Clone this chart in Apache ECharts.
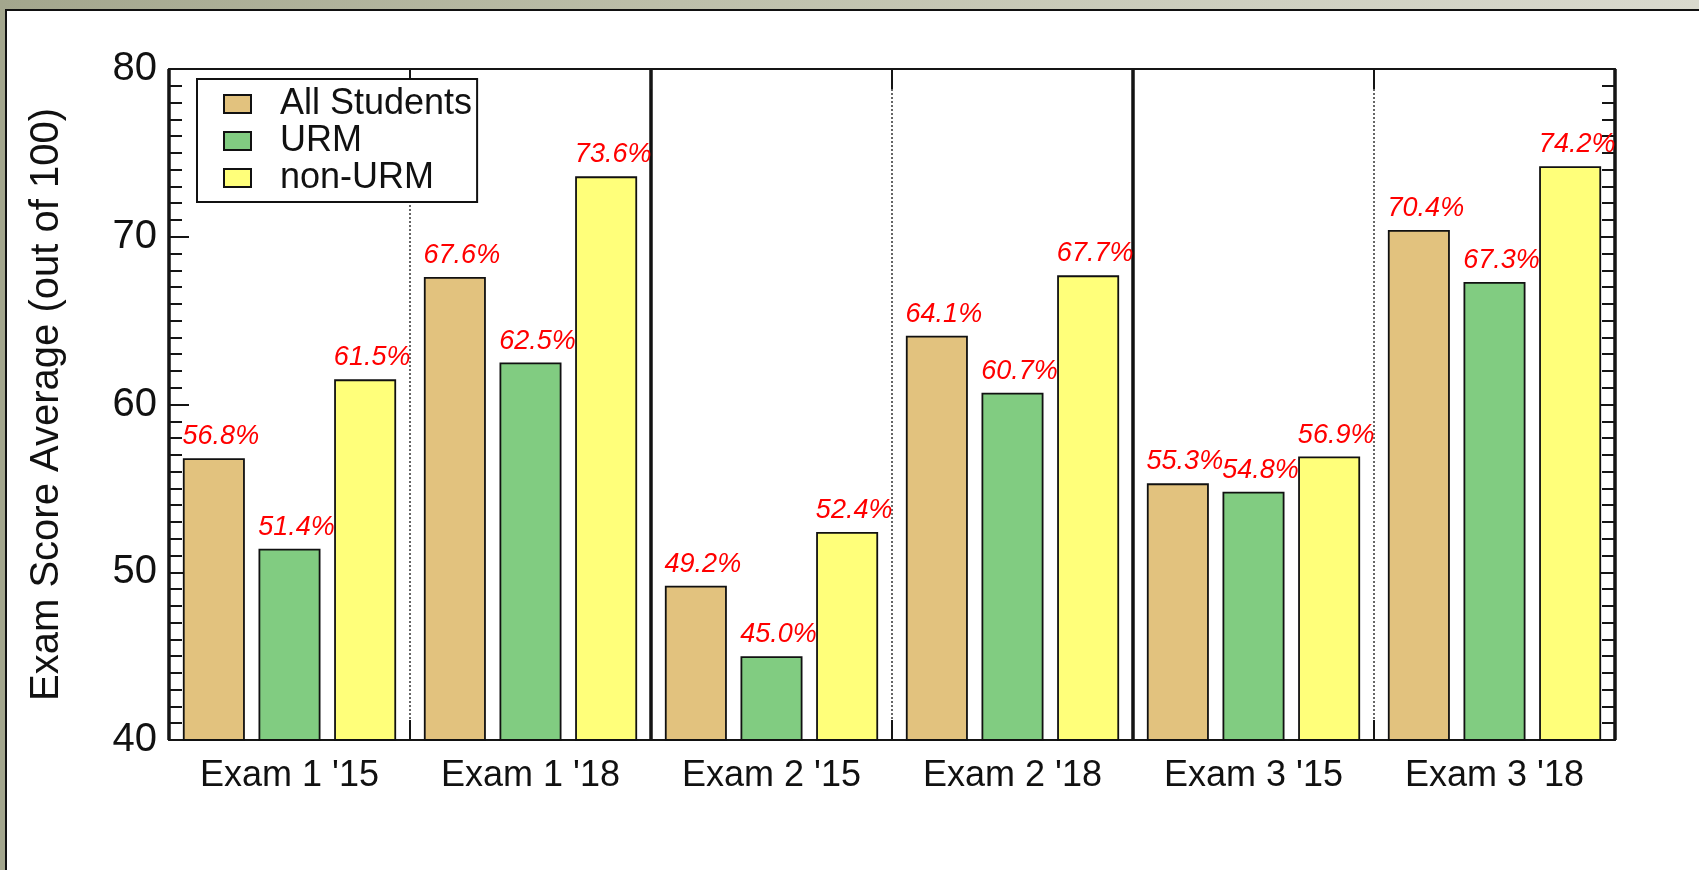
<!DOCTYPE html>
<html>
<head>
<meta charset="utf-8">
<script src="https://cdn.jsdelivr.net/npm/echarts@6/dist/echarts.min.js"></script>
<style>
  html, body { margin: 0; padding: 0; width: 1699px; height: 870px; overflow: hidden; }
  body { background: linear-gradient(to right, #a3a68d 0%, #bdbfaa 40%, #cfd0c1 75%, #d9d9ce 100%); position: relative; }
  #panel { position: absolute; left: 5px; top: 9px; right: 0; bottom: 0; background: #fff;
           border-top: 2px solid #111; border-left: 2px solid #111; }
  #main { position: absolute; left: 0; top: 0; width: 1699px; height: 870px; }
</style>
</head>
<body>
<div id="panel"></div>
<div id="main"></div>
<script>
// ---- data ----
const categories = ["Exam 1 '15", "Exam 1 '18", "Exam 2 '15", "Exam 2 '18", "Exam 3 '15", "Exam 3 '18"];
const sections = ["Exam 1", "Exam 2", "Exam 3"];
const allStudents = [56.8, 67.6, 49.2, 64.1, 55.3, 70.4];
const urm = [51.4, 62.5, 45.0, 60.7, 54.8, 67.3];
const nonUrm = [61.5, 73.6, 52.4, 67.7, 56.9, 74.2];
const seriesNames = ["All Students", "URM", "non-URM"];
const yTicks = { min: 40, max: 80, interval: 10 };
const yTitle = "Exam Score Average (out of 100)";

const FONT = "'Liberation Sans', Arial, Helvetica, sans-serif";
const AX = '#151515';
const colors = ['#e2c27e', '#81cc81', '#ffff7a'];

const chart = echarts.init(document.getElementById('main'), null, { renderer: 'canvas' });

function barSeries(name, data, color) {
  return {
    name: name,
    type: 'bar',
    xAxisIndex: 0,
    yAxisIndex: 0,
    data: data,
    barWidth: 62,
    barGap: '22%',
    itemStyle: { color: color, borderColor: '#111', borderWidth: 1.8 },
    label: {
      show: true,
      position: 'top',
      distance: 8,
      offset: [7, 0],
      formatter: p => p.value.toFixed(1) + '%',
      color: '#ff0000',
      fontStyle: 'italic',
      fontFamily: FONT,
      fontSize: 27
    },
    z: 3
  };
}

const tickCommon = { show: true, inside: true, length: 20, lineStyle: { color: AX, width: 2 } };
const minorCommon = { show: true, splitNumber: 10, length: 13, lineStyle: { color: AX, width: 2 } };

const option = {
  backgroundColor: 'transparent',
  animation: false,
  grid: { left: 169, right: 84, top: 69, bottom: 130, containLabel: false },
  legend: {
    orient: 'vertical',
    left: 197,
    top: 79,
    backgroundColor: '#fff',
    borderColor: '#111',
    borderWidth: 2,
    padding: [7, 5, 6, 26],
    itemWidth: 27,
    itemHeight: 18,
    itemGap: 1,
    icon: 'rect',
    data: seriesNames,
    textStyle: { fontFamily: FONT, fontSize: 36, color: '#111', lineHeight: 36, padding: [0, 0, 0, 24] }
  },
  xAxis: [
    {
      type: 'category',
      position: 'bottom',
      data: categories,
      axisLine: { show: true, onZero: false, lineStyle: { color: AX, width: 2 } },
      axisTick: Object.assign({ interval: 0 }, tickCommon),
      axisLabel: { interval: 0, fontFamily: FONT, fontSize: 36, color: '#111', margin: 18 },
      splitLine: { show: true, interval: 0, lineStyle: { color: '#333', width: 1.5, type: [2, 2] } }
    },
    {
      type: 'category',
      position: 'top',
      data: categories,
      axisLine: { show: true, onZero: false, lineStyle: { color: AX, width: 2 } },
      axisTick: Object.assign({ interval: 0 }, tickCommon),
      axisLabel: { show: false },
      splitLine: { show: false }
    },
    {
      type: 'category',
      position: 'bottom',
      data: sections,
      axisLine: { show: false },
      axisTick: { show: false },
      axisLabel: { show: false },
      splitLine: { show: true, interval: 0, lineStyle: { color: '#111', width: 3.5, type: 'solid' } }
    }
  ],
  yAxis: [
    {
      type: 'value',
      position: 'left',
      min: yTicks.min, max: yTicks.max, interval: yTicks.interval,
      name: yTitle,
      nameLocation: 'middle',
      nameRotate: 90,
      nameGap: 102,
      nameTextStyle: { fontFamily: FONT, fontSize: 40, color: '#111' },
      axisLine: { show: true, lineStyle: { color: AX, width: 2 } },
      axisTick: tickCommon,
      minorTick: minorCommon,
      axisLabel: { fontFamily: FONT, fontSize: 40, color: '#111', margin: 12 },
      splitLine: { show: false }
    },
    {
      type: 'value',
      position: 'right',
      min: yTicks.min, max: yTicks.max, interval: yTicks.interval,
      axisLine: { show: true, lineStyle: { color: AX, width: 2 } },
      axisTick: tickCommon,
      minorTick: minorCommon,
      axisLabel: { show: false },
      splitLine: { show: false }
    }
  ],
  series: [
    barSeries(seriesNames[0], allStudents, colors[0]),
    barSeries(seriesNames[1], urm, colors[1]),
    barSeries(seriesNames[2], nonUrm, colors[2])
  ]
};

chart.setOption(option);
</script>
</body>
</html>
